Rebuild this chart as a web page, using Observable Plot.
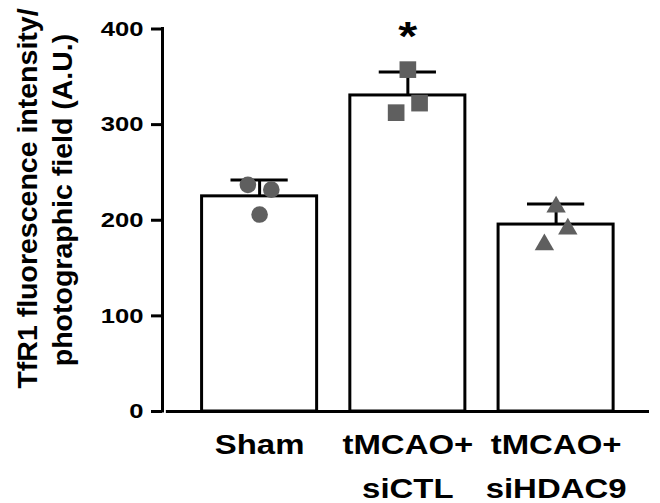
<!DOCTYPE html>
<html><head><meta charset="utf-8">
<script src="https://cdn.jsdelivr.net/npm/d3@7"></script>
<script src="https://cdn.jsdelivr.net/npm/@observablehq/plot@0.6"></script>
<style>
html,body{margin:0;padding:0;background:#fff;}
#chart svg{display:block;}
</style></head><body><div id="chart"></div>
<script>
// ---- data ----
const groups = ["Sham", "tMCAO+\nsiCTL", "tMCAO+\nsiHDAC9"];
const means = [225, 330.5, 195.5];
const errTop = [242, 355, 217];
const significance = ["", "*", ""];
const yTicks = [0, 100, 200, 300, 400];

const shamValues = [237, 232, 206];
const shamSlots = [-1, 1, 0];
const siCTLValues = [357.5, 322.5, 312.5];
const siCTLSlots = [0, 1, -1];
const siHDAC9Values = [214, 191, 174.5];
const siHDAC9Slots = [0, 1, -1];

// ---- tables built from the arrays ----
const bars = groups.map((g, i) => ({i, group: g, mean: means[i], top: errTop[i], sig: significance[i]}));
const pts = (vals, slots, i) => vals.map((v, k) => ({i, value: v, slot: slots[k]}));
const shamPts = pts(shamValues, shamSlots, 0);
const siCTLPts = pts(siCTLValues, siCTLSlots, 1);
const siHDAC9Pts = pts(siHDAC9Values, siHDAC9Slots, 2);

// ---- layout / style constants ----
const X0 = -0.655, X1 = 2.63;
const barHalf = 0.388, capHalf = 0.193, jitter = 0.079;
const ptColor = "#5f5f5f";
const px = d => d.i + d.slot * jitter;
const FONT = "'Liberation Sans', Arial, sans-serif";

const chart = Plot.plot({
  width: 660, height: 503,
  marginLeft: 162, marginRight: 11, marginTop: 28.5, marginBottom: 92,
  x: {domain: [X0, X1], axis: null},
  y: {domain: [0, 400], axis: null},
  style: {fontFamily: FONT, background: "#fff", color: "#000"},
  marks: [
    Plot.rectY(bars, {x1: d => d.i - barHalf, x2: d => d.i + barHalf, y: "mean", fill: "white", stroke: "black", strokeWidth: 3}),
    Plot.ruleX(bars, {x: "i", y1: "mean", y2: "top", stroke: "black", strokeWidth: 3}),
    Plot.ruleY(bars, {y: "top", x1: d => d.i - capHalf, x2: d => d.i + capHalf, stroke: "black", strokeWidth: 3}),
    Plot.dot(shamPts, {x: px, y: "value", symbol: "circle", r: 8.3, fill: ptColor, stroke: null}),
    Plot.dot(siCTLPts, {x: px, y: "value", symbol: "square", r: 9.4, fill: ptColor, stroke: null}),
    Plot.dot(siHDAC9Pts, {x: px, y: "value", symbol: "triangle", r: 7.2, fill: ptColor, stroke: null}),
    Plot.text(bars.filter(d => d.sig), {x: "i", y: "top", text: "sig", dy: -35, fontSize: 40, fontWeight: "bold", lineAnchor: "middle", fill: "black"}),
    Plot.ruleX([X0], {y1: 0, y2: 400, stroke: "black", strokeWidth: 3, strokeLinecap: "square"}),
    Plot.ruleY([0], {x1: X0 + 0.026, x2: X1, stroke: "black", strokeWidth: 3}),
    Plot.ruleY(yTicks, {y: d => d, x1: X0, x2: X0, insetLeft: -11, stroke: "black", strokeWidth: 3}),
    Plot.text(yTicks, {y: d => d, frameAnchor: "left", text: d => String(d), textAnchor: "end", dx: -19, fontSize: 21, fontWeight: "bold", fill: "black"}),
    Plot.text(bars, {x: "i", frameAnchor: "bottom", text: "group", lineAnchor: "top", dy: 11, lineHeight: 1.645, fontSize: 27, fontWeight: "bold", fill: "black"})
  ]
});
document.getElementById("chart").append(chart);

// horizontal stretch of the reference typeface
d3.select(chart).selectAll("text").each(function () {
  const bb = this.getBBox();
  const anchor = getComputedStyle(this).textAnchor;
  const ox = anchor === "end" ? bb.x + bb.width : anchor === "start" ? bb.x : bb.x + bb.width / 2;
  const t = this.getAttribute("transform") || "";
  this.setAttribute("transform", `${t} translate(${ox},0) scale(1.22,1) translate(${-ox},0)`);
});

// y-axis title (two lines, rotated)
const tg = d3.select(chart).append("g")
  .attr("font-family", FONT)
  .attr("font-weight", "bold").attr("font-size", 28.5).attr("text-anchor", "middle").attr("fill", "black");
tg.append("text").attr("transform", "translate(36.5,198.5) rotate(-90)").text("TfR1 fluorescence intensity/");
tg.append("text").attr("transform", "translate(71.5,200) rotate(-90)").text("photographic field (A.U.)");
</script>
</body></html>
